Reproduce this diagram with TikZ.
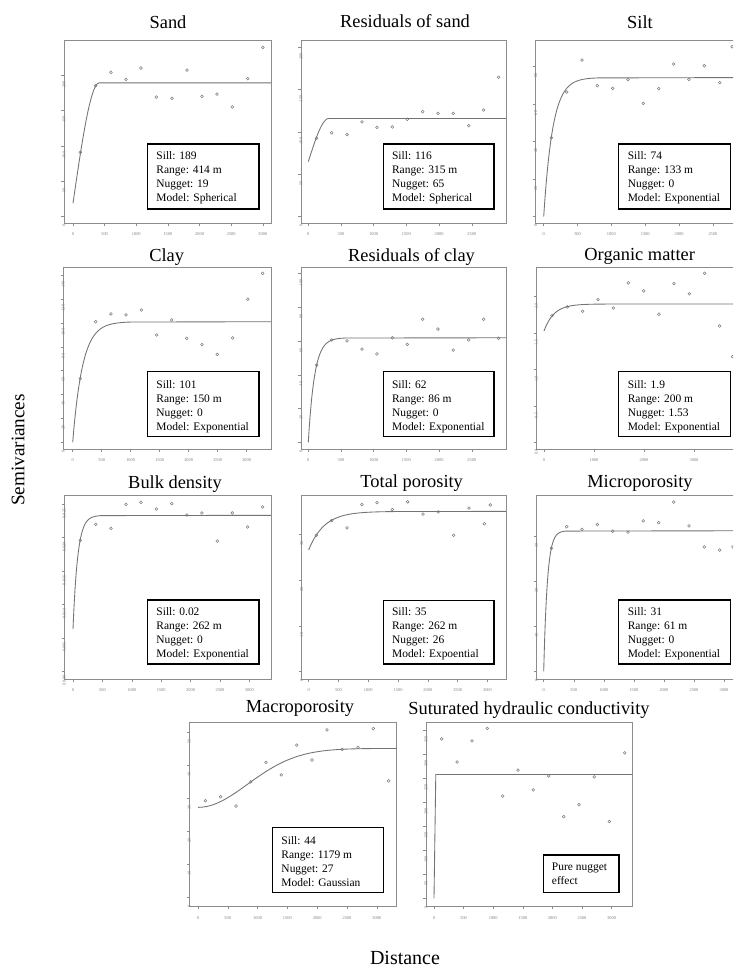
\documentclass[tikz,border=0pt]{standalone}
\usepackage{fontspec}
\setmainfont{Liberation Serif}
\definecolor{framec}{gray}{0.55}
\definecolor{tickc}{gray}{0.5}
\definecolor{ptc}{gray}{0.5}
\definecolor{curvec}{gray}{0.45}
\tikzset{
 frame/.style={draw=framec, line width=0.6pt},
 tickm/.style={draw=framec, line width=0.35pt},
 xlab/.style={font=\fontsize{3.3}{3.5}\selectfont, text=tickc, inner sep=0pt, yshift=-8.2pt},
 ylab/.style={font=\fontsize{3.3}{3.5}\selectfont, text=tickc, inner sep=0pt, rotate=90, xshift=-6.8pt},
 ptm/.style={draw=ptc, line width=0.4pt},
 fitcurve/.style={draw=curvec, line width=0.65pt},
 infobox/.style={draw=black, line width=0.9pt},
 infotext/.style={font=\fontsize{8.6}{10.5}\selectfont, align=left, anchor=north west, inner sep=0pt},
 ptitle/.style={font=\fontsize{13.8}{15}\selectfont, anchor=base, inner sep=0pt},
 axtitle/.style={font=\fontsize{14.4}{16}\selectfont, inner sep=0pt},
 data/.style={shift={({\vgOX*0.75pt},{-\vgOY*0.75pt})}, x=\vgSX*0.75pt, y=\vgSY*0.75pt},
}
% frame left, top, right, bottom (px); x0, px per x unit, y0, px per y unit
\newcommand\vgset[8]{%
 \def\vgOX{#5}\def\vgSX{#6}\def\vgOY{#7}\def\vgSY{#8}%
 \pgfmathsetmacro\vgDXL{(#1-#5)/#6}%
 \pgfmathsetmacro\vgDXR{(#3-#5)/#6}%
 \pgfmathsetmacro\vgDYB{(#7-#4)/#8}%
 \draw[frame] (#1,#2) rectangle (#3,#4);}
\newcommand\vgxticks[1]{%
 \foreach \t in {#1}{\draw[tickm] (\t,\vgDYB) -- ++(0pt,-2pt); \node[xlab] at (\t,\vgDYB) {\t};}}
\newcommand\vgyticks[1]{%
 \foreach \v/\l in {#1}{\draw[tickm] (\vgDXL,\v) -- ++(-2pt,0pt); \node[ylab] at (\vgDXL,\v) {\l};}}
\newcommand\vgpoints[1]{%
 \foreach \a/\b in {#1}{\draw[ptm] (\a,\b) circle[radius=1.05pt];}}
\begin{document}
\begin{tikzpicture}[x=0.75pt, y=-0.75pt]
\useasboundingbox (0,0) rectangle (733,973);
\fill[white] (0,0) rectangle (733,973);
\clip (0,0) rectangle (733,973);

% ---------------- Sand
\vgset{64}{40.7}{271}{223}{73}{0.0633}{216.7}{0.708}
\node[ptitle] (t1) at (168,28.3) {Sand};
\begin{scope}[data]
 \vgxticks{0,500,1000,1500,2000,2500,3000}
 \vgyticks{0/0,50/50,100/100,150/150,200/200}
 \vgpoints{115/91,358/185,600/204,837/194,1074/210,1316/169,1564/167,1801/207,2038/170,2275/173,2517/155,2760/195,3001/239}
 \draw[fitcurve] plot[domain=0:414, samples=40, smooth] (\x,{19+170*(1.5*\x/414-0.5*(\x/414)^3)}) -- (\vgDXR,189);
\end{scope}
\draw[infobox] (147.7,144) rectangle (259,209);
\node[infotext] (b1) at (156.2,151) {Sill: 189\\Range: 414 m\\Nugget: 19\\Model: Spherical};

% ---------------- Residuals of sand
\vgset{301}{40.7}{506}{223}{308.3}{0.0654}{216.7}{0.847}
\node[ptitle] (t2) at (405,27.7) {Residuals of sand};
\begin{scope}[data]
 \vgxticks{0,500,1000,1500,2000,2500}
 \vgyticks{0/0,50/50,100/100,150/150,200/200}
 \vgpoints{128/92.6,357/99,592/97,821/112,1050/105.5,1285/106,1514/115,1749/124,1983/122,2217/122,2453/107.5,2682/126,2911/164.6}
 \draw[fitcurve] plot[domain=0:315, samples=40, smooth] (\x,{65+51*(1.5*\x/315-0.5*(\x/315)^3)}) -- (\vgDXR,116);
\end{scope}
\draw[infobox] (383.3,144) rectangle (494,209);
\node[infotext] (b2) at (391.8,151) {Sill: 116\\Range: 315 m\\Nugget: 65\\Model: Spherical};

% ---------------- Silt
\vgset{535.7}{40.7}{740}{223}{543.7}{0.0677}{216.7}{1.88}
\node[ptitle] (t3) at (640,28.3) {Silt};
\begin{scope}[data]
 \vgxticks{0,500,1000,1500,2000,2500}
 \vgyticks{0/0,20/20,40/40,60/60,80/80}
 \vgpoints{113/42,340/66.3,566/83.3,792/69.7,1019/68.3,1245/72.9,1471/60.3,1699/68.1,1920/81.2,2146/73,2372/80.3,2600/71.3,2785/90.4}
 \draw[fitcurve] plot[domain=0:800, samples=60, smooth] (\x,{74*(1-exp(-\x/133))}) -- (\vgDXR,74);
\end{scope}
\draw[infobox] (618.7,144) rectangle (730.7,209);
\node[infotext] (b3) at (627.5,151) {Sill: 74\\Range: 133 m\\Nugget: 0\\Model: Exponential};

% ---------------- Clay
\vgset{63.3}{267.3}{271}{449}{72.7}{0.058}{442.3}{1.194}
\node[ptitle] (t4) at (166.7,261.7) {Clay};
\begin{scope}[data]
 \vgxticks{0,500,1000,1500,2000,2500,3000}
 \vgyticks{0/0,20/20,40/40,60/60,80/80,100/100,120/120,140/140}
 \vgpoints{131/53.3,397/101,660/107.5,919/106.7,1183/110.8,1448/89.9,1707/102.5,1966/87.1,2229/81.8,2493/73.7,2759/87.4,3022/119.8,3276/141.5}
 \draw[fitcurve] plot[domain=0:1000, samples=60, smooth] (\x,{101*(1-exp(-\x/170))}) -- (\vgDXR,101);
\end{scope}
\draw[infobox] (147.7,371.7) rectangle (259,436.7);
\node[infotext] (b4) at (156.2,380) {Sill: 101\\Range: 150 m\\Nugget: 0\\Model: Exponential};

% ---------------- Residuals of clay
\vgset{301}{267.3}{506}{449}{308.3}{0.0654}{442.3}{1.686}
\node[ptitle] (t5) at (411.5,261.7) {Residuals of clay};
\begin{scope}[data]
 \vgxticks{0,500,1000,1500,2000,2500}
 \vgyticks{0/0,20/20,40/40,60/60,80/80,100/100}
 \vgpoints{128/45.8,357/60.7,592/60.2,821/55.3,1050/52.4,1285/62,1514/58.1,1749/73,1983/67.2,2217/54.7,2453/60.7,2682/73,2911/61.7}
 \draw[fitcurve] plot[domain=0:570, samples=60, smooth] (\x,{62*(1-exp(-\x/95))}) -- (\vgDXR,62);
\end{scope}
\draw[infobox] (383.3,371.7) rectangle (494,436.7);
\node[infotext] (b5) at (391.8,380) {Sill: 62\\Range: 86 m\\Nugget: 0\\Model: Exponential};

% ---------------- Organic matter
\vgset{536.3}{267.3}{740}{449}{544}{0.05}{442.7}{73}
\node[ptitle] (t6) at (639.7,260.7) {Organic matter};
\begin{scope}[data]
 \vgxticks{0,1000,2000,3000}
 \vgyticks{0/0.0,0.5/0.5,1/1.0,1.5/1.5,2/2.0}
 \vgpoints{160/1.74,467/1.86,773/1.80,1080/1.96,1387/1.845,1687/2.19,1993/2.08,2300/1.76,2600/2.18,2907/2.04,3213/2.32,3513/1.60,3770/1.18}
 \draw[fitcurve] plot[domain=0:1200, samples=60, smooth] (\x,{1.53+0.37*(1-exp(-\x/200))}) -- (\vgDXR,1.9);
\end{scope}
\draw[infobox] (618.7,371.7) rectangle (730.7,436.7);
\node[infotext] (b6) at (627.5,380) {Sill: 1.9\\Range: 200 m\\Nugget: 1.53\\Model: Exponential};

% ---------------- Bulk density (y in units of 0.001)
\vgset{64.3}{495}{271}{679}{73}{0.0588}{671.3}{6.68}
\node[ptitle] (t7) at (175,488.3) {Bulk density};
\begin{scope}[data]
 \vgxticks{0,500,1000,1500,2000,2500,3000}
 \vgyticks{0/0.000,5/0.005,10/0.010,15/0.015,20/0.020,25/0.025}
 \vgpoints{124/19.6,386/22.0,646/21.4,901/25.0,1156/25.3,1417/24.3,1678/25.1,1938/23.4,2193/23.7,2454/19.5,2709/23.7,2970/21.6,3226/24.6}
 \draw[fitcurve] plot[domain=0:480, samples=60, smooth] (\x,{6.3+17.05*(1-exp(-\x/80))}) -- (\vgDXR,23.35);
\end{scope}
\draw[infobox] (147.7,600) rectangle (259,664);
\node[infotext] (b7) at (156.2,607.7) {Sill: 0.02\\Range: 262 m\\Nugget: 0\\Model: Exponential};

% ---------------- Total porosity
\vgset{301.7}{495}{506}{679}{308.7}{0.0596}{671.7}{4.58}
\node[ptitle] (t8) at (411.7,487.7) {Total porosity};
\begin{scope}[data]
 \vgxticks{0,500,1000,1500,2000,2500,3000}
 \vgyticks{0/0,10/10,20/20,30/30}
 \vgpoints{128/29.8,386/33.0,643/31.4,894/36.5,1146/36.9,1403/35.4,1661/37.1,1918/34.4,2175/34.9,2433/29.8,2690/35.7,2946/32.3,3047/36.4}
 \draw[fitcurve] plot[domain=0:1600, samples=60, smooth] (\x,{26.6+8.4*(1-exp(-\x/262))}) -- (\vgDXR,35);
\end{scope}
\draw[infobox] (383.3,600.7) rectangle (494,664);
\node[infotext] (b8) at (391.8,607.7) {Sill: 35\\Range: 262 m\\Nugget: 26\\Model: Expoential};

% ---------------- Microporosity
\vgset{536.3}{495}{740}{679}{543.7}{0.0601}{671.3}{4.49}
\node[ptitle] (t9) at (640,487.3) {Microporosity};
\begin{scope}[data]
 \vgxticks{0,500,1000,1500,2000,2500,3000}
 \vgyticks{0/0,10/10,20/20,30/30}
 \vgpoints{127/27.4,383/32.2,637/31.6,892/32.7,1148/31.2,1403/31.0,1657/33.5,1913/33.1,2163/37.7,2418/32.4,2672/27.7,2928/27.0,3150/27.7}
 \draw[fitcurve] plot[domain=0:370, samples=60, smooth] (\x,{31.3*(1-exp(-\x/61))}) -- (\vgDXR,31.3);
\end{scope}
\draw[infobox] (618.7,600) rectangle (730.3,664);
\node[infotext] (b9) at (627.5,607.7) {Sill: 31\\Range: 61 m\\Nugget: 0\\Model: Exponential};

% ---------------- Macroporosity
\vgset{189.3}{722.7}{396.7}{906.7}{198}{0.0596}{897.7}{3.31}
\node[ptitle] (t10) at (300,712.7) {Macroporosity};
\begin{scope}[data]
 \vgxticks{0,500,1000,1500,2000,2500,3000}
 \vgyticks{0/0,10/10,20/20,30/30,40/40,50/50}
 \vgpoints{123/29.3,381/30.5,638/27.7,884/35.0,1141/40.9,1398/37.1,1656/46.1,1913/41.6,2164/50.7,2421/44.8,2685/45.4,2942/51.1,3199/35.3}
 \draw[fitcurve] plot[domain=0:\vgDXR, samples=70, smooth] (\x,{27.3+17.8*(1-exp(-(\x/1179)^2))});
\end{scope}
\draw[infobox] (272.7,827.3) rectangle (383.3,892.3);
\node[infotext] (b10) at (281.2,836) {Sill: 44\\Range: 1179 m\\Nugget: 27\\Model: Gaussian};

% ---------------- Saturated hydraulic conductivity
\vgset{426}{722.7}{632.3}{906.7}{434}{0.0592}{898.3}{0.48}
\node[ptitle] (t11) at (529,714) {Suturated hydraulic conductivity};
\begin{scope}[data]
 \vgxticks{0,500,1000,1500,2000,2500,3000}
 \vgyticks{0/0,50/50,100/100,150/150,200/200,250/250,300/300,350/350}
 \vgpoints{130/332,389/284,642/328,900/354,1160/213,1419/267,1677/226,1937/255,2191/170,2449/195,2708/253,2961/160,3221/303}
 \coordinate (h0) at (0,0);
 \coordinate (h1) at (30,258);
 \coordinate (h2) at (\vgDXR,258);
 \draw[fitcurve] (h0) -- (h1) -- (h2);
\end{scope}
\draw[infobox] (543.3,855) rectangle (619,892.7);
\node[infotext] (b11) at (551.7,862.7) {Pure nugget\\effect};

% ---------------- axis titles
\node[axtitle, rotate=90] (ylabel) at (18,450) {Semivariances};
\node[axtitle, font=\fontsize{15}{17}\selectfont] (xlabel) at (405,958) {Distance};
\end{tikzpicture}
\end{document}
